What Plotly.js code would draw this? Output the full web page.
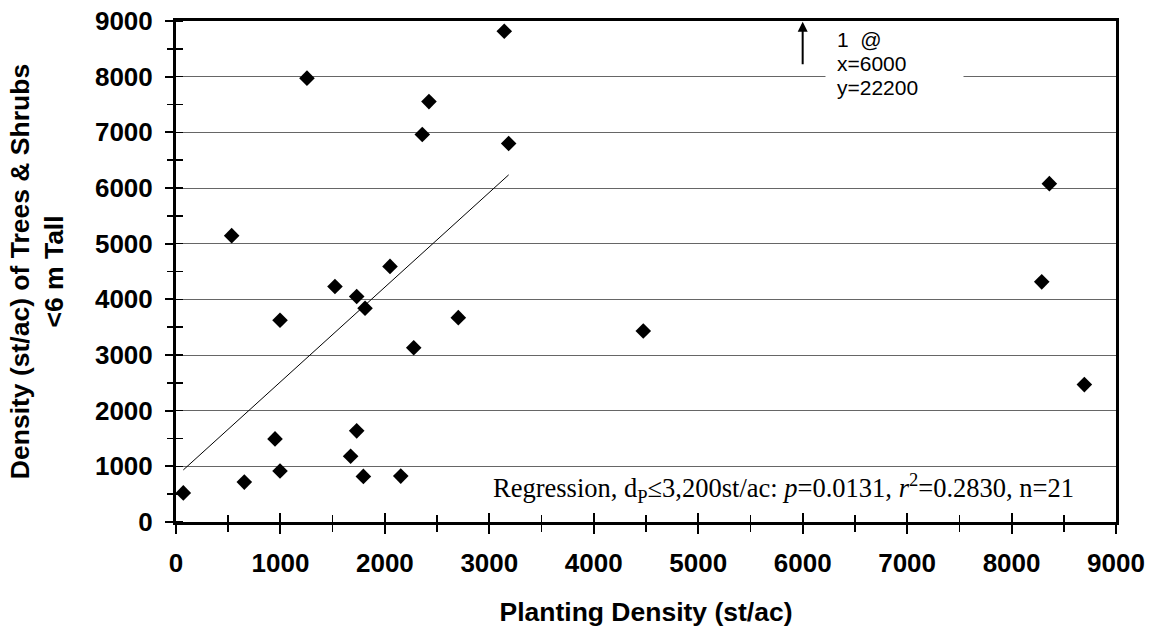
<!DOCTYPE html>
<html>
<head>
<meta charset="utf-8">
<script src="https://cdn.plot.ly/plotly-3.0.1.min.js"></script>
<style>
html,body{margin:0;padding:0;background:#fff;}
#chart{width:1151px;height:628px;}
</style>
</head>
<body>
<div id="chart"></div>
<script>
// Planting density (st/ac) and density of trees & shrubs < 6 m tall (st/ac)
var plantingDensity = [70, 654, 948, 996, 996, 1672, 1730, 1794, 1810, 1730, 1522, 2049, 533, 1254, 2422, 2358, 3143, 3185, 2703, 2276, 2152, 4474, 8362, 8289, 8697];
var shrubDensity    = [523, 717, 1493, 915, 3623, 1180, 1637, 819, 3840, 4050, 4231, 4592, 5144, 7973, 7552, 6962, 8816, 6800, 3671, 3130, 825, 3430, 6078, 4314, 2468];

// Regression line (d_P <= 3,200 st/ac), endpoints
var fitX = [70, 3185];
var fitY = [935, 6236];

// Off-chart point note
var offPointX = 6000;
var offPointY = 22200;

var tickVals = [0, 1000, 2000, 3000, 4000, 5000, 6000, 7000, 8000, 9000];

var tickFont = {family: 'Liberation Sans, Arial, sans-serif', size: 26, color: '#000', weight: 'bold'};
var titleFont = {family: 'Liberation Sans, Arial, sans-serif', size: 26.5, weight: 'bold', color: '#000'};

var traces = [
  {
    x: fitX, y: fitY, type: 'scatter', mode: 'lines',
    line: {color: '#000', width: 1}, hoverinfo: 'skip', showlegend: false
  },
  {
    x: plantingDensity, y: shrubDensity, type: 'scatter', mode: 'markers',
    marker: {symbol: 'diamond', size: 12, color: '#000'}, showlegend: false
  },
  { x: [], y: [], xaxis: 'x2', yaxis: 'y', type: 'scatter', showlegend: false },
  { x: [], y: [], xaxis: 'x', yaxis: 'y2', type: 'scatter', showlegend: false }
];

var layout = {
  width: 1151, height: 628,
  margin: {l: 176, r: 35, t: 21, b: 106, pad: 0},
  paper_bgcolor: '#fff', plot_bgcolor: '#fff',
  showlegend: false,
  font: {family: 'Liberation Sans, Arial, sans-serif', color: '#000'},
  xaxis: {
    range: [0, 9000], autorange: false, tickvals: tickVals, ticktext: tickVals.map(String),
    showgrid: false, zeroline: false,
    showline: true, linecolor: '#000', linewidth: 3, mirror: true,
    ticks: 'outside', ticklen: 9, tickwidth: 2, tickcolor: '#000',
    minor: {dtick: 500, ticks: 'outside', ticklen: 7, tickwidth: 1.5, tickcolor: '#000', showgrid: false},
    tickfont: tickFont, ticklabelstandoff: 7,
    title: {text: 'Planting Density (st/ac)', font: titleFont, standoff: 26},
    automargin: false
  },
  xaxis2: {
    overlaying: 'x', anchor: 'y', side: 'bottom',
    range: [0, 9000], autorange: false, tickvals: tickVals, showticklabels: false,
    showgrid: false, zeroline: false, showline: false,
    ticks: 'inside', ticklen: 9, tickwidth: 2, tickcolor: '#000',
    minor: {dtick: 500, ticks: 'inside', ticklen: 7, tickwidth: 1.5, tickcolor: '#000', showgrid: false},
    automargin: false
  },
  yaxis: {
    range: [0, 9000], autorange: false, tickvals: tickVals, ticktext: tickVals.map(String),
    showgrid: true, gridcolor: '#666', gridwidth: 1, zeroline: false,
    showline: true, linecolor: '#000', linewidth: 3, mirror: true,
    ticks: 'outside', ticklen: 8, tickwidth: 2, tickcolor: '#000',
    minor: {dtick: 500, ticks: 'outside', ticklen: 6, tickwidth: 1.5, tickcolor: '#000', showgrid: false},
    tickfont: tickFont, ticklabelstandoff: 7,
    title: {text: 'Density (st/ac) of Trees &amp; Shrubs<br>&lt;6 m Tall', font: titleFont, standoff: 24},
    automargin: false
  },
  yaxis2: {
    overlaying: 'y', anchor: 'x', side: 'left',
    range: [0, 9000], autorange: false, tickvals: tickVals, showticklabels: false,
    showgrid: false, zeroline: false, showline: false,
    minor: {dtick: 500, ticks: 'inside', ticklen: 7, tickwidth: 1.5, tickcolor: '#000', showgrid: false},
    ticks: '', automargin: false
  },
  annotations: [
    {
      x: offPointX, y: 8985, ax: offPointX, ay: 8195, xref: 'x', yref: 'y', axref: 'x', ayref: 'y',
      text: '', showarrow: true, arrowhead: 2, arrowsize: 1, arrowwidth: 2, arrowcolor: '#000'
    },
    {
      x: 6879, y: 8000, xref: 'x', yref: 'y', text: ' ', showarrow: false,
      bgcolor: '#fff', width: 137, height: 6, borderpad: 0, xanchor: 'center', yanchor: 'middle',
      font: {size: 4}
    },
    {
      x: 6310, y: 8674, xref: 'x', yref: 'y', xanchor: 'left', yanchor: 'middle', showarrow: false,
      text: '1&nbsp;&nbsp;@', font: {family: 'Liberation Sans, Arial, sans-serif', size: 21, color: '#000'}
    },
    {
      x: 6310, y: 8229, xref: 'x', yref: 'y', xanchor: 'left', yanchor: 'middle', showarrow: false,
      text: 'x=' + offPointX, font: {family: 'Liberation Sans, Arial, sans-serif', size: 21, color: '#000'}
    },
    {
      x: 6310, y: 7797, xref: 'x', yref: 'y', xanchor: 'left', yanchor: 'middle', showarrow: false,
      text: 'y=' + offPointY, font: {family: 'Liberation Sans, Arial, sans-serif', size: 21, color: '#000'}
    },
    {
      x: 5812, y: 608, xref: 'x', yref: 'y', xanchor: 'center', yanchor: 'middle', showarrow: false,
      text: 'Regression, d<sub>P</sub>≤3,200st/ac: <i>p</i>=0.0131, <i>r</i><sup>2</sup>=0.2830, n=21',
      font: {family: 'Liberation Serif, Times New Roman, serif', size: 26.5, color: '#000'}
    }
  ]
};

Plotly.newPlot('chart', traces, layout, {displayModeBar: false, staticPlot: true});
</script>
</body>
</html>
